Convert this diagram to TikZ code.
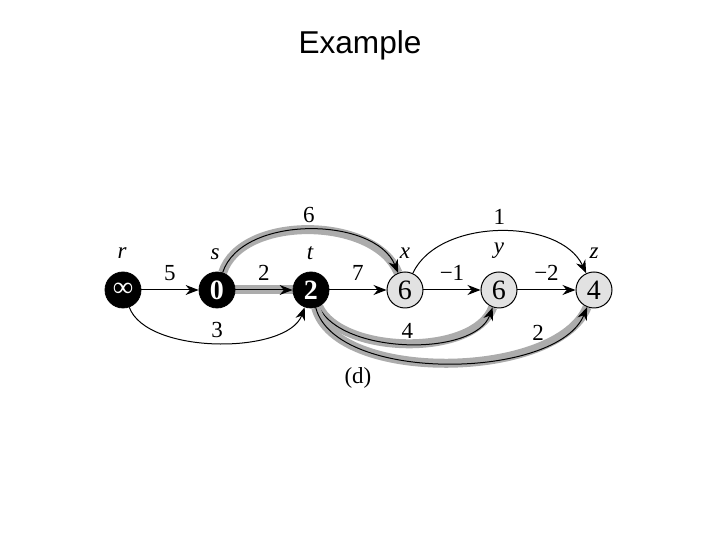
\documentclass[tikz,border=0pt]{standalone}
\usepackage{fontspec}
\setmainfont{Liberation Serif}
\newfontfamily\titlefont{Liberation Sans}
\usepackage{tikz}
\usetikzlibrary{arrows.meta, backgrounds}
\definecolor{nodegray}{RGB}{226,226,226}
\definecolor{hlgray}{RGB}{172,172,172}

\tikzset{
    blknode/.style={circle, fill=black, draw=black, minimum size=18pt, inner sep=0pt,
        text=white, font=\fontsize{14}{14}\selectfont\bfseries},
    grynode/.style={circle, fill=nodegray, draw=black, line width=0.5pt, minimum size=18pt,
        inner sep=0pt, font=\fontsize{14}{14}\selectfont},
    vname/.style={font=\fontsize{11.5}{11.5}\selectfont\itshape},
    wt/.style={font=\fontsize{11.5}{11.5}\selectfont},
    link/.style={-{Stealth[length=6.5pt,width=5pt]}, line width=0.5pt},
    shortest/.style={link, preaction={draw=hlgray, line width=4.5pt, -}}
}

\begin{document}
\begin{tikzpicture}[x=0.5pt, y=0.5pt]
    \useasboundingbox (0,0) rectangle (720,540);

    % Title
    \node[font=\titlefont\fontsize{15.8}{18}\selectfont] (title) at (360,495) {Example};

    % Vertices
    \node[blknode] (r) at (123,250) {∞};
    \node[blknode] (s) at (217,250) {0};
    \node[blknode] (t) at (311,250) {2};
    \node[grynode] (x) at (405,250) {6};
    \node[grynode] (y) at (499,250) {6};
    \node[grynode] (z) at (594,250) {4};

    % Vertex names
    \node[vname] (rn) at (122,287) {r};
    \node[vname] (sn) at (215,286) {s};
    \node[vname] (tn) at (310,287) {t};
    \node[vname] (xn) at (405,287) {x};
    \node[vname] (yn) at (499,289) {y};
    \node[vname] (zn) at (594,287) {z};

    % Edges
    \begin{pgfonlayer}{background}
        \draw[link] (r) -- node[wt, above=1pt] (w5) {5} (s);
        \draw[shortest] (s) -- node[wt, above=1pt] (w2a) {2} (t);
        \draw[link] (t) -- node[wt, above=1pt] (w7) {7} (x);
        \draw[link] (x) -- node[wt, above=1pt] (wm1) {−1} (y);
        \draw[link] (y) -- node[wt, above=1pt] (wm2) {−2} (z);

        \draw[link] (r) to[out=-70, in=-110, looseness=0.74] node[wt, above=-1pt] (w3) {3} (t);
        \draw[shortest] (s) to[out=72, in=112, looseness=0.89] node[wt, above] (w6) {6} (x);
        \draw[link] (x) to[out=65, in=115, looseness=0.91] node[wt, above] (w1) {1} (z);
        \draw[shortest] (t) to[out=-65, in=-110, looseness=0.78] node[wt, above=-1pt] (w4) {4} (y);
        \draw[shortest] (t) to[out=-75, in=-112, looseness=0.74] node[wt, pos=0.76, above] (w2b) {2} (z);
    \end{pgfonlayer}

    % Caption
    \node[wt] (cap) at (358,162) {(d)};
\end{tikzpicture}
\end{document}
